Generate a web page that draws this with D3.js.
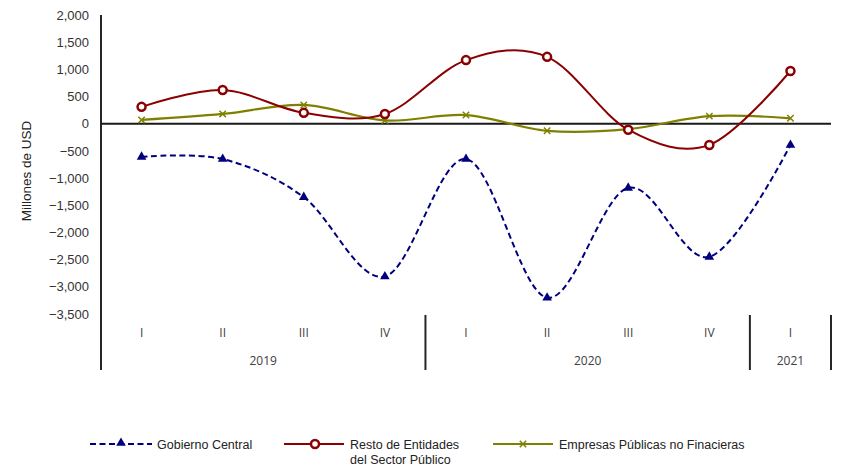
<!DOCTYPE html>
<html><head><meta charset="utf-8">
<script src="https://cdn.jsdelivr.net/npm/d3@7"></script>
<style>body{margin:0;background:#fff}</style>
</head><body>
<svg id="c" width="841" height="470"></svg>
<script>
const quarters = ["I","II","III","IV","I","II","III","IV","I"];
const years = [{label:"2019", start:0, end:4},{label:"2020", start:4, end:8},{label:"2021", start:8, end:9}];
const gobiernoCentral = [-610,-650,-1350,-2810,-650,-3200,-1180,-2450,-390];
const restoEntidades = [310,620,200,180,1170,1230,-110,-390,970];
const empresasPublicas = [70,180,345,60,160,-130,-100,140,100];
const yTicks = [2000,1500,1000,500,0,-500,-1000,-1500,-2000,-2500,-3000,-3500];

(function(){
const svg = d3.select("#c");
const mL = 101, mR = 831, mT = 15, mB = 314;
const x = d3.scaleBand().domain(d3.range(quarters.length)).range([mL,mR]);
const y = d3.scaleLinear().domain([-3500,2000]).range([mB, mT]);
const cx = i => x(i) + x.bandwidth()/2;

const yAxis = d3.axisLeft(y).tickValues(yTicks).tickSize(0).tickPadding(12).tickFormat(d3.format(","));
const ga = svg.append("g").attr("transform",`translate(${mL},0)`).call(yAxis);
ga.select(".domain").remove();
ga.selectAll("text").attr("font-family","Liberation Sans, Arial, sans-serif").attr("font-size","13px").attr("fill","#333");

svg.append("line").attr("x1",mL).attr("x2",mL).attr("y1",mT).attr("y2",370).attr("stroke","#262626").attr("stroke-width",2);
svg.append("line").attr("x1",mL).attr("x2",mR).attr("y1",y(0)).attr("y2",y(0)).attr("stroke","#1a1a1a").attr("stroke-width",2);

svg.append("g").selectAll("text").data(quarters).join("text")
  .attr("x",(d,i)=>cx(i)).attr("y",337).attr("text-anchor","middle")
  .attr("font-family","Open Sans, sans-serif").attr("font-size","12px").attr("fill","#404040").text(d=>d);
svg.append("g").selectAll("text").data(years).join("text")
  .attr("x",d=>(x(d.start)+x(d.end-1)+x.bandwidth())/2).attr("y",365).attr("text-anchor","middle")
  .attr("font-family","Open Sans, sans-serif").attr("font-size","12px").attr("fill","#404040").text(d=>d.label);
const seps = years.map(d=>d.end).filter(e=>e<quarters.length).map(e=>x(e));
seps.push(mR);
svg.append("g").selectAll("line").data(seps).join("line")
  .attr("x1",d=>d).attr("x2",d=>d).attr("y1",315).attr("y2",370).attr("stroke","#262626").attr("stroke-width",2);

svg.append("text").attr("transform","translate(31,171) rotate(-90)").attr("text-anchor","middle")
  .attr("font-family","Liberation Sans, Arial, sans-serif").attr("font-size","13.5px").attr("fill","#222").text("Millones de USD");

const line = d3.line().x((d,i)=>cx(i)).y(d=>y(d)).curve(d3.curveCardinal.tension(0));

const blue="#00007f", red="#8b0000", olive="#808000";
const tri = d3.symbol().type(d3.symbolTriangle).size(40);

svg.append("path").attr("d",line(empresasPublicas)).attr("fill","none").attr("stroke",olive).attr("stroke-width",2.2);
svg.append("path").attr("d",line(restoEntidades)).attr("fill","none").attr("stroke",red).attr("stroke-width",2);
svg.append("path").attr("d",line(gobiernoCentral)).attr("fill","none").attr("stroke",blue).attr("stroke-width",2).attr("stroke-dasharray","6,3.5");

function xMark(g, px, py, s){
  g.append("path").attr("d",`M${px-s},${py-s}L${px+s},${py+s}M${px-s},${py+s}L${px+s},${py-s}`)
   .attr("stroke",olive).attr("stroke-width",1.5).attr("fill","none");
}
const gm = svg.append("g");
empresasPublicas.forEach((v,i)=>xMark(gm,cx(i),y(v),3.2));
svg.append("g").selectAll("circle").data(restoEntidades).join("circle")
  .attr("cx",(d,i)=>cx(i)).attr("cy",d=>y(d)).attr("r",4).attr("fill","#fff").attr("stroke",red).attr("stroke-width",2.5);
svg.append("g").selectAll("path").data(gobiernoCentral).join("path")
  .attr("d",tri).attr("transform",(d,i)=>`translate(${cx(i)},${y(d)})`).attr("fill",blue);

const lg = svg.append("g").attr("font-family","Liberation Sans, Arial, sans-serif").attr("font-size","12.5px").attr("fill","#222");
const ly = 444;
lg.append("line").attr("x1",90).attr("x2",152).attr("y1",ly).attr("y2",ly).attr("stroke",blue).attr("stroke-width",2).attr("stroke-dasharray","6,3.5");
lg.append("path").attr("d",tri).attr("transform",`translate(121,${ly-1})`).attr("fill",blue);
lg.append("text").attr("x",157).attr("y",ly+4.5).text("Gobierno Central");
lg.append("line").attr("x1",284).attr("x2",344).attr("y1",ly).attr("y2",ly).attr("stroke",red).attr("stroke-width",2);
lg.append("circle").attr("cx",315).attr("cy",ly).attr("r",4).attr("fill","#fff").attr("stroke",red).attr("stroke-width",2.5);
lg.append("text").attr("x",350).attr("y",ly+4.5).text("Resto de Entidades");
lg.append("text").attr("x",350).attr("y",ly+19.5).text("del Sector Público");
lg.append("line").attr("x1",493).attr("x2",553).attr("y1",ly).attr("y2",ly).attr("stroke",olive).attr("stroke-width",2.2);
xMark(lg,523,ly,3.2);
lg.append("text").attr("x",559).attr("y",ly+4.5).text("Empresas Públicas no Finacieras");
})();
</script>
</body></html>
